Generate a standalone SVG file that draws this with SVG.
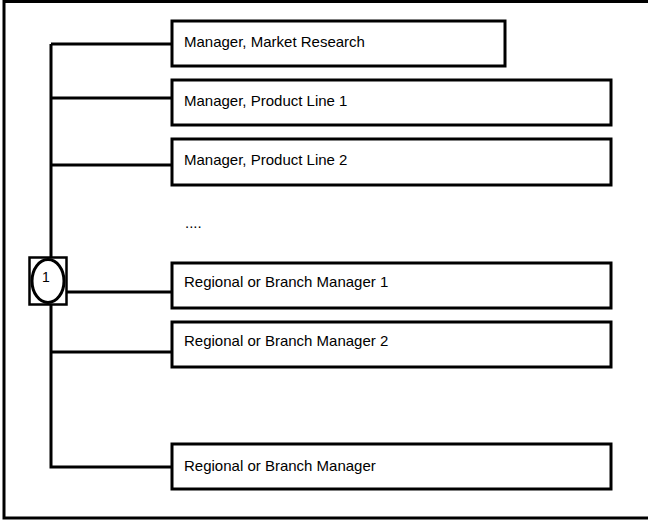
<svg xmlns="http://www.w3.org/2000/svg" width="648" height="522" viewBox="0 0 648 522">
<style>
.box{fill:#fff;stroke:#000;stroke-width:3}
.lbl{font-family:"Liberation Sans",Arial,sans-serif;font-size:15px;fill:#000}
.conn{stroke:#000;stroke-width:3;fill:none}
</style>
<rect x="0" y="0" width="648" height="522" fill="#fff"/>
<rect x="4" y="1.5" width="646" height="516.5" fill="none" stroke="#000" stroke-width="3"/>
<g id="connectors">
<path class="conn" d="M51,44 V467 H172"/>
<path class="conn" d="M51,44 H172"/>
<path class="conn" d="M51,98 H172"/>
<path class="conn" d="M51,165 H172"/>
<path class="conn" d="M51,292 H172"/>
<path class="conn" d="M51,352 H172"/>
</g>
<g id="hub">
<rect x="29.5" y="257.5" width="37" height="47" fill="#fff" stroke="#000" stroke-width="2.5"/>
<ellipse cx="48" cy="281" rx="16" ry="21.5" fill="#fff" stroke="#000" stroke-width="3"/>
<text class="lbl" x="42" y="282" style="font-size:14px">1</text>
</g>
<g id="n1"><rect class="box" x="172" y="21" width="333" height="45"/><text class="lbl" x="184" y="47">Manager, Market Research</text></g>
<g id="n2"><rect class="box" x="172" y="80" width="439" height="45"/><text class="lbl" x="184" y="106">Manager, Product Line 1</text></g>
<g id="n3"><rect class="box" x="172" y="139" width="439" height="46"/><text class="lbl" x="184" y="165">Manager, Product Line 2</text></g>
<g id="dots"><text class="lbl" x="185" y="228">....</text></g>
<g id="n4"><rect class="box" x="172" y="263" width="439" height="45"/><text class="lbl" x="184" y="287">Regional or Branch Manager 1</text></g>
<g id="n5"><rect class="box" x="172" y="322" width="439" height="45"/><text class="lbl" x="184" y="346">Regional or Branch Manager 2</text></g>
<g id="n6"><rect class="box" x="172" y="444" width="439" height="45"/><text class="lbl" x="184" y="471">Regional or Branch Manager</text></g>
</svg>
